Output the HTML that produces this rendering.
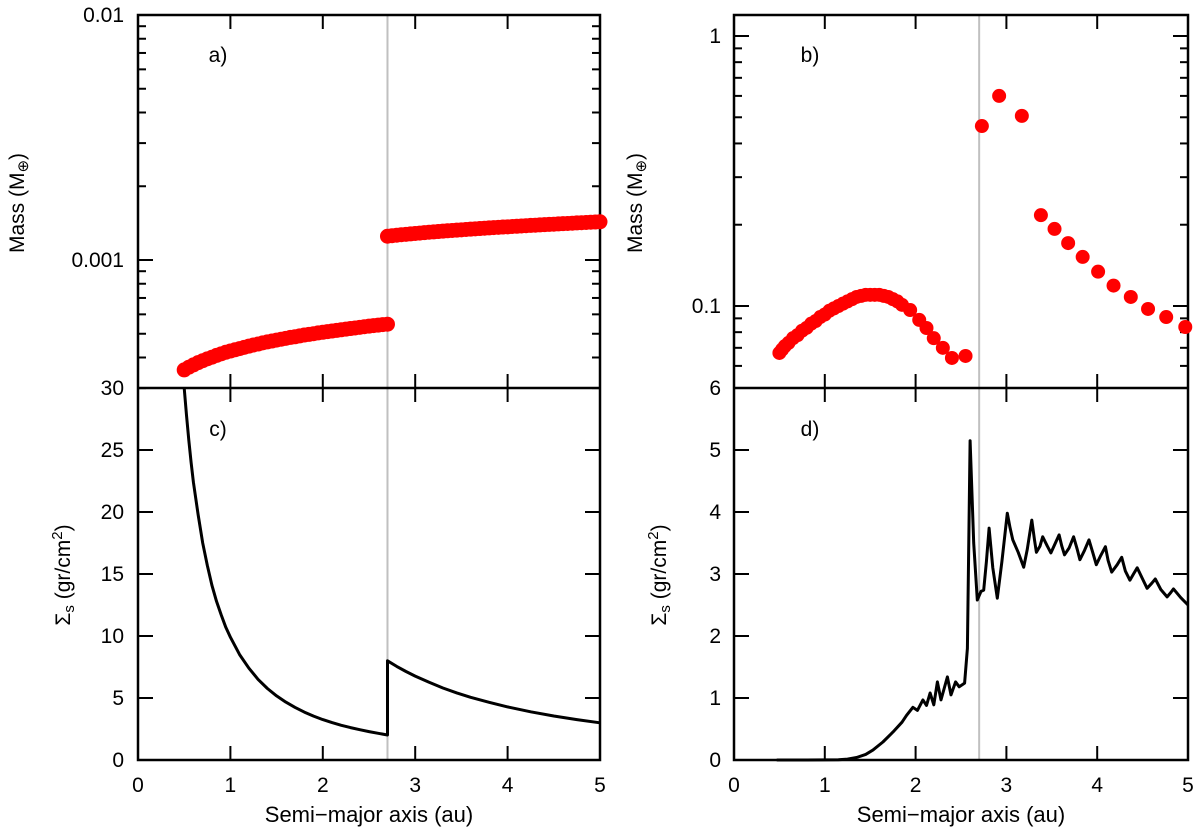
<!DOCTYPE html>
<html><head><meta charset="utf-8"><style>
html,body{margin:0;padding:0;background:#fff;}
svg{display:block;font-family:"Liberation Sans",sans-serif;}
</style></head><body>
<svg id="fig" width="1200" height="837" viewBox="0 0 1200 837" xmlns="http://www.w3.org/2000/svg"></svg>
<script>
// ---- data ----
const aA1=[0.5,0.55,0.6,0.65,0.7,0.75,0.8,0.85,0.9,0.95,1.0,1.05,1.1,1.15,1.2,1.25,1.3,1.35,1.4,1.45,1.5,1.55,1.6,1.65,1.7,1.75,1.8,1.85,1.9,1.95,2.0,2.05,2.1,2.15,2.2,2.25,2.3,2.35,2.4,2.45,2.5,2.55,2.6,2.65,2.7];
const mA1=[3.56,3.65,3.73,3.81,3.88,3.95,4.01,4.08,4.14,4.20,4.25,4.30,4.35,4.40,4.45,4.50,4.54,4.59,4.63,4.67,4.71,4.75,4.79,4.83,4.86,4.90,4.94,4.97,5.00,5.04,5.07,5.10,5.13,5.16,5.19,5.22,5.25,5.28,5.31,5.34,5.37,5.40,5.42,5.45,5.47];
const aA2=[2.7,2.75,2.8,2.85,2.9,2.95,3.0,3.05,3.1,3.15,3.2,3.25,3.3,3.35,3.4,3.45,3.5,3.55,3.6,3.65,3.7,3.75,3.8,3.85,3.9,3.95,4.0,4.05,4.1,4.15,4.2,4.25,4.3,4.35,4.4,4.45,4.5,4.55,4.6,4.65,4.7,4.75,4.8,4.85,4.9,4.95,5.0];
const mA2=[12.50,12.56,12.62,12.68,12.73,12.78,12.83,12.88,12.93,12.98,13.02,13.07,13.11,13.16,13.20,13.24,13.28,13.32,13.36,13.40,13.44,13.48,13.52,13.56,13.59,13.63,13.66,13.70,13.73,13.77,13.80,13.84,13.87,13.91,13.94,13.97,14.00,14.04,14.07,14.10,14.13,14.17,14.20,14.23,14.26,14.29,14.32];
const aB=[0.5,0.53,0.56,0.6,0.65,0.7,0.75,0.8,0.85,0.9,0.95,1.0,1.05,1.1,1.15,1.2,1.25,1.3,1.35,1.4,1.45,1.5,1.55,1.6,1.65,1.7,1.75,1.8,1.85,1.94,2.04,2.12,2.20,2.30,2.40,2.55,2.73,2.92,3.17,3.38,3.53,3.68,3.84,4.01,4.18,4.37,4.56,4.76,4.97];
const mB=[0.067,0.069,0.071,0.073,0.076,0.078,0.081,0.083,0.086,0.088,0.091,0.093,0.096,0.098,0.100,0.102,0.104,0.106,0.108,0.109,0.110,0.110,0.110,0.110,0.109,0.108,0.106,0.104,0.101,0.0966,0.0888,0.0829,0.076,0.070,0.0642,0.0653,0.464,0.60,0.506,0.217,0.193,0.171,0.152,0.134,0.119,0.108,0.0975,0.091,0.0836];
const aC1=[0.5,0.525,0.55,0.575,0.6,0.65,0.7,0.75,0.8,0.85,0.9,0.95,1.0,1.1,1.2,1.3,1.4,1.5,1.6,1.7,1.8,1.9,2.0,2.1,2.2,2.3,2.4,2.5,2.6,2.7];
const sC1=[30,27.8,25.8,24.0,22.4,19.8,17.5,15.7,14.1,12.8,11.7,10.7,9.9,8.5,7.4,6.5,5.77,5.17,4.67,4.24,3.86,3.54,3.26,3.02,2.80,2.61,2.44,2.29,2.15,2.02];
const aC2=[2.7,2.8,2.9,3.0,3.15,3.3,3.45,3.6,3.8,4.0,4.25,4.5,4.75,5.0];
const sC2=[8.0,7.55,7.14,6.77,6.27,5.81,5.41,5.06,4.65,4.28,3.89,3.55,3.26,3.0];
const aD=[0.47,0.8,1.0,1.15,1.25,1.35,1.45,1.53,1.64,1.75,1.85,1.9,1.97,2.02,2.08,2.12,2.16,2.2,2.24,2.28,2.35,2.39,2.44,2.48,2.54,2.57,2.60,2.64,2.68,2.72,2.75,2.78,2.81,2.85,2.90,2.95,3.01,3.04,3.07,3.13,3.19,3.23,3.28,3.31,3.33,3.37,3.40,3.45,3.49,3.54,3.58,3.61,3.64,3.69,3.74,3.78,3.81,3.86,3.91,3.95,3.99,4.04,4.09,4.12,4.16,4.22,4.27,4.31,4.36,4.40,4.44,4.50,4.55,4.60,4.64,4.70,4.77,4.81,4.84,4.92,5.0];
const sD=[0,0,0.001,0.005,0.015,0.04,0.09,0.16,0.29,0.45,0.61,0.72,0.85,0.80,0.97,0.88,1.08,0.89,1.26,0.97,1.34,1.05,1.26,1.18,1.24,1.8,5.15,3.5,2.58,2.72,2.74,3.2,3.74,3.1,2.61,3.2,3.98,3.75,3.55,3.35,3.11,3.4,3.87,3.55,3.35,3.45,3.6,3.45,3.34,3.5,3.63,3.45,3.31,3.42,3.6,3.4,3.23,3.38,3.55,3.35,3.15,3.3,3.44,3.22,3.03,3.15,3.27,3.05,2.9,3.0,3.1,2.92,2.77,2.85,2.92,2.75,2.63,2.7,2.76,2.62,2.5];
const xTicks=[0,1,2,3,4,5];
const tickC=[0,5,10,15,20,25,30];
const tickD=[0,1,2,3,4,5,6];

const NS="http://www.w3.org/2000/svg";
const svg=document.getElementById('fig');
function mk(tag,attrs,parent){const e=document.createElementNS(NS,tag);for(const k in attrs)e.setAttribute(k,attrs[k]);(parent||svg).appendChild(e);return e;}
const P={L:{x0:138,x1:600},R:{x0:734,x1:1188}};
const yTop=15,yMid=388,yBot=760;
const FS=21;
function sx(p,a){return p.x0+(p.x1-p.x0)*a/5;}
const yA=m=>260-245*(Math.log10(m)+3);
const yB=m=>306-270*(Math.log10(m)+1);
const yC=v=>yBot-(yBot-yMid)*v/30;
const yD=v=>yBot-(yBot-yMid)*v/6;

function line(x1,y1,x2,y2,w,c,name){const l=mk('line',{x1,y1,x2,y2,stroke:c||'#000','stroke-width':w||2});return l;}
function text(x,y,s,anchor,name,size){const t=mk('text',{x,y,'font-size':size||FS,'text-anchor':anchor||'middle',fill:'#000'});t.textContent=s;return t;}

line(sx(P.L,2.7),yTop,sx(P.L,2.7),yBot,2,'#c0c0c0','snowline-left');
line(sx(P.R,2.7),yTop,sx(P.R,2.7),yBot,2,'#c0c0c0','snowline-right');

[P.L,P.R].forEach((p,pi)=>{
  xTicks.forEach(v=>{
    const x=sx(p,v);
    if(v>0&&v<5){
      line(x,yBot,x,yBot-14,2,'#000','x-tick');
      line(x,yMid,x,yMid+14,2,'#000','x-tick');
      line(x,yMid,x,yMid-14,2,'#000','x-tick');
      line(x,yTop,x,yTop+14,2,'#000','x-tick');
    }
    text(x,792,String(v),'middle','x-tick-label');
  });
  text((p.x0+p.x1)/2,822,'Semi\u2212major axis (au)','middle','x-axis-title',22);
});
for(let d=-4;d<=-2;d++){for(let k=1;k<=9;k++){const m=k*Math.pow(10,d);const y=yA(m);if(y<yTop-0.5||y>yMid+0.5)continue;const len=k===1?15:8;line(P.L.x0,y,P.L.x0+len,y);line(P.L.x1,y,P.L.x1-len,y);}}
text(124,22,'0.01','end','y-tick-label');
text(124,267,'0.001','end','y-tick-label');
for(let d=-2;d<=0;d++){for(let k=1;k<=9;k++){const m=k*Math.pow(10,d);const y=yB(m);if(y<yTop-0.5||y>yMid-1)continue;const len=k===1?15:8;line(P.R.x0,y,P.R.x0+len,y);line(P.R.x1,y,P.R.x1-len,y);}}
text(721,43,'1','end','y-tick-label');
text(721,313,'0.1','end','y-tick-label');
tickC.forEach(v=>{const y=yC(v);if(v>0&&v<30){line(P.L.x0,y,P.L.x0+15,y);line(P.L.x1,y,P.L.x1-15,y);}text(124,y+7,String(v),'end','y-tick-label');});
tickD.forEach(v=>{const y=yD(v);if(v>0&&v<6){line(P.R.x0,y,P.R.x0+15,y);line(P.R.x1,y,P.R.x1-15,y);}text(721,y+7,String(v),'end','y-tick-label');});

[P.L,P.R].forEach((p,i)=>{
  const r=mk('rect',{x:p.x0,y:yTop,width:p.x1-p.x0,height:yBot-yTop,fill:'none',stroke:'#000','stroke-width':2.5});
  
  line(p.x0,yMid,p.x1,yMid,2.5,'#000','panel-divider');
});

text(218,62,'a)','middle','panel-label-a');
text(810,62,'b)','middle','panel-label-b');
text(218,436,'c)','middle','panel-label-c');
text(810,436,'d)','middle','panel-label-d');

function ytitle(x,y,parts,name){const t=mk('text',{x:0,y:0,'font-size':FS,'text-anchor':'middle',transform:`translate(${x},${y}) rotate(-90)`});
  parts.forEach(pt=>{const s=mk('tspan',pt.a||{},t);s.textContent=pt.t;});return t;}
ytitle(24,203,[{t:'Mass (M'},{t:'\u2295',a:{'font-size':15,dy:4}},{t:')',a:{dy:-4}}],'y-axis-title-a');
ytitle(642,203,[{t:'Mass (M'},{t:'\u2295',a:{'font-size':15,dy:4}},{t:')',a:{dy:-4}}],'y-axis-title-b');
ytitle(70,575,[{t:'\u03A3'},{t:'s',a:{'font-size':15,dy:4}},{t:' (gr/cm',a:{dy:-4}},{t:'2',a:{'font-size':15,dy:-8}},{t:')',a:{dy:8}}],'y-axis-title-c');
ytitle(666,575,[{t:'\u03A3'},{t:'s',a:{'font-size':15,dy:4}},{t:' (gr/cm',a:{dy:-4}},{t:'2',a:{'font-size':15,dy:-8}},{t:')',a:{dy:8}}],'y-axis-title-d');

aA1.forEach((a,i)=>{const c=mk('circle',{cx:sx(P.L,a),cy:yA(mA1[i]*1e-4),r:7.5,fill:'#f00'});});
aA2.forEach((a,i)=>{const c=mk('circle',{cx:sx(P.L,a),cy:yA(mA2[i]*1e-4),r:7.5,fill:'#f00'});});
aB.forEach((a,i)=>{const c=mk('circle',{cx:sx(P.R,a),cy:yB(mB[i]),r:7,fill:'#f00'});});
function poly(xs,ys,p,fy,name){const pts=xs.map((a,i)=>sx(p,a).toFixed(1)+','+fy(ys[i]).toFixed(1)).join(' ');const pl=mk('polyline',{points:pts,fill:'none',stroke:'#000','stroke-width':3,'stroke-linejoin':'round'});}
poly(aC1.concat(aC2),sC1.concat(sC2),P.L,yC,'surface-density-curve-c');
poly(aD,sD,P.R,yD,'surface-density-curve-d');
</script>
</body></html>
